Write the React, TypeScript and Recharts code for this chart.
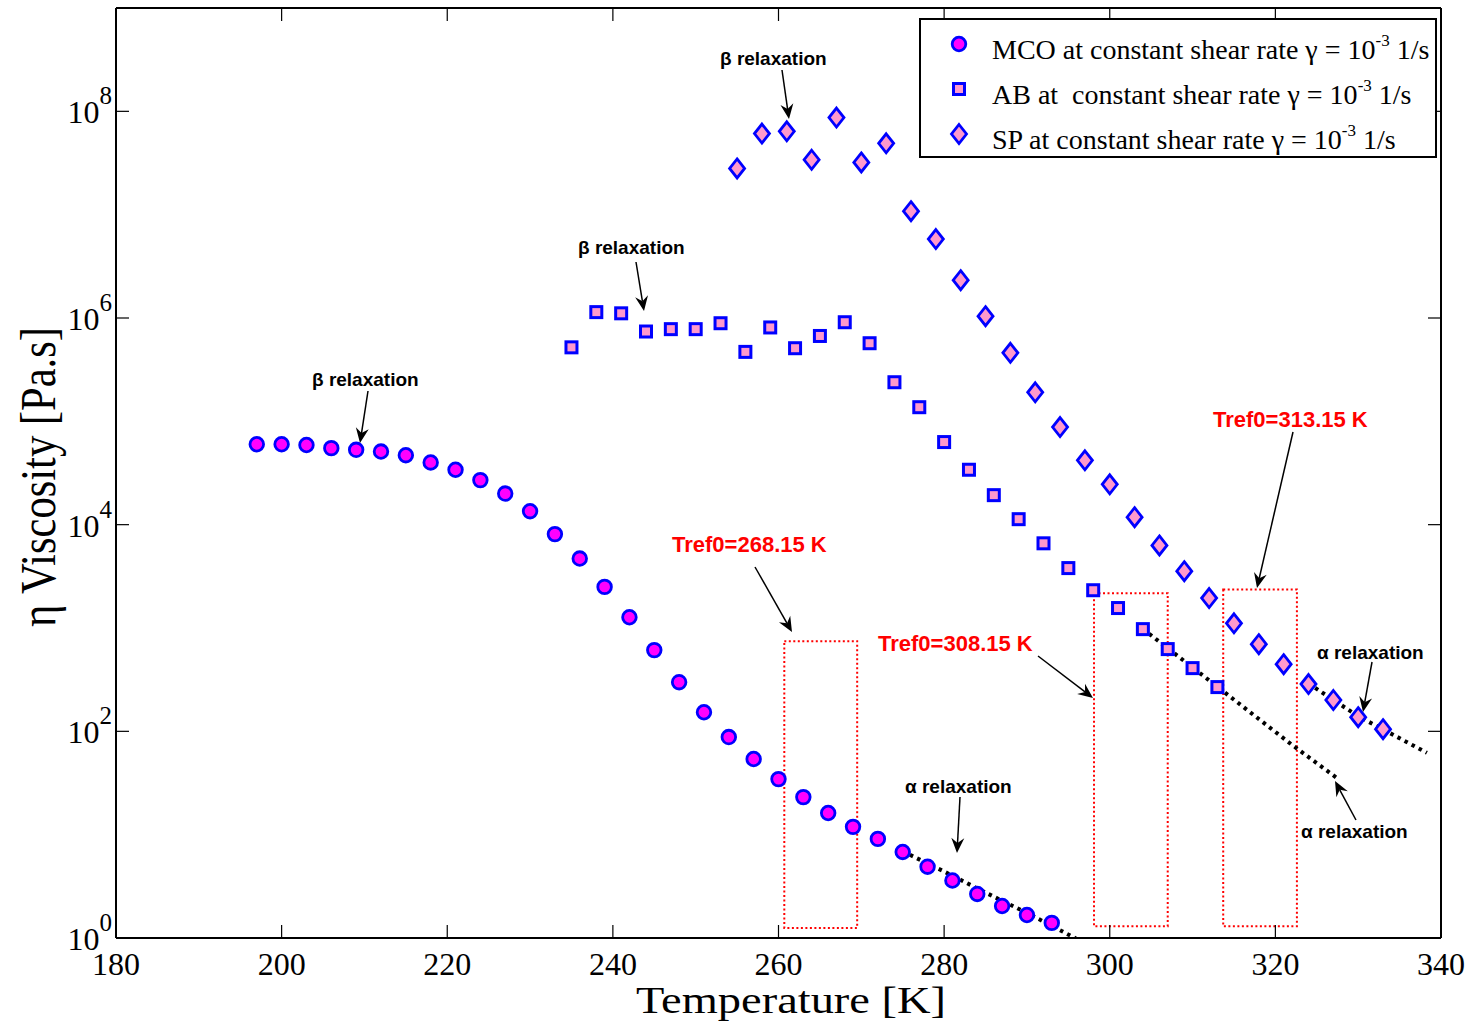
import {
  ComposedChart,
  Scatter,
  Line,
  XAxis,
  YAxis,
  ReferenceArea,
  Legend
} from "recharts"

// MCO (circles)
const mcoTemps = [197, 200, 203, 206, 209, 212, 215, 218, 221, 224, 227, 230, 233, 236, 239, 242, 245, 248, 251, 254, 257, 260, 263, 266, 269, 272, 275, 278, 281, 284, 287, 290, 293]
const mcoEta = [6.0e4, 6.0e4, 5.9e4, 5.5e4, 5.3e4, 5.1e4, 4.7e4, 4.0e4, 3.4e4, 2.7e4, 2.0e4, 1.35e4, 8.1e3, 4.7e3, 2.5e3, 1.27e3, 611, 299, 153, 88, 54, 34.5, 23.1, 16.2, 11.9, 9.1, 6.8, 4.9, 3.6, 2.67, 2.04, 1.67, 1.4]

// AB (squares)
const abTemps = [235, 238, 241, 244, 247, 250, 253, 256, 259, 262, 265, 268, 271, 274, 277, 280, 283, 286, 289, 292, 295, 298, 301, 304, 307, 310, 313]
const abEta = [5.2e5, 1.14e6, 1.11e6, 7.4e5, 7.8e5, 7.8e5, 8.9e5, 4.7e5, 8.1e5, 5.1e5, 6.7e5, 9.1e5, 5.7e5, 2.39e5, 1.37e5, 6.3e4, 3.4e4, 1.93e4, 1.13e4, 6.6e3, 3.8e3, 2.32e3, 1.56e3, 975, 625, 409, 268]

// SP (diamonds)
const spTemps = [255, 258, 261, 264, 267, 270, 273, 276, 279, 282, 285, 288, 291, 294, 297, 300, 303, 306, 309, 312, 315, 318, 321, 324, 327, 330, 333]
const spEta = [2.8e7, 6.1e7, 6.4e7, 3.4e7, 8.7e7, 3.2e7, 4.9e7, 1.08e7, 5.8e6, 2.32e6, 1.04e6, 4.6e5, 1.91e5, 8.8e4, 4.2e4, 2.46e4, 1.18e4, 6.3e3, 3.55e3, 1.95e3, 1.11e3, 698, 447, 287, 201, 137, 105]

// alpha relaxation fits (dotted)
const mcoFitTemps = [275, 280, 285, 290, 296]
const mcoFitEta = [6.9, 4.4, 2.75, 1.75, 0.98]
const abFitTemps = [304, 313, 322, 327.5]
const abFitEta = [980, 270, 74, 35]
const spFitTemps = [324, 330, 338.3]
const spFitEta = [290, 140, 62]

// Tref0 boxes
const trefBoxes = [
  { x1: 260.7, x2: 269.5, y1: 1.25, y2: 746 },
  { x1: 298.1, x2: 307.0, y1: 1.3, y2: 2170 },
  { x1: 313.7, x2: 322.6, y1: 1.3, y2: 2360 }
]

const xTicks = [180, 200, 220, 240, 260, 280, 300, 320, 340]
const yTicks = [1, 1e2, 1e4, 1e6, 1e8]

const legendRows = [
  { shape: "circle", text: "MCO at constant shear rate γ = 10" },
  { shape: "square", text: "AB at  constant shear rate γ = 10" },
  { shape: "diamond", text: "SP at constant shear rate γ = 10" }
]

const notes = [
  { text: "β relaxation", x: 312, y: 386, red: false, from: [368, 391], to: [360, 443] },
  { text: "β relaxation", x: 578, y: 254, red: false, from: [636, 262], to: [644, 311] },
  { text: "β relaxation", x: 720, y: 65, red: false, from: [782, 70], to: [789, 119] },
  { text: "Tref0=268.15 K", x: 672, y: 552, red: true, from: [755, 567], to: [792, 632] },
  { text: "Tref0=308.15 K", x: 878, y: 651, red: true, from: [1038, 656], to: [1093, 698] },
  { text: "Tref0=313.15 K", x: 1213, y: 427, red: true, from: [1293, 432], to: [1257, 588] },
  { text: "α relaxation", x: 905, y: 793, red: false, from: [960, 797], to: [957, 853] },
  { text: "α relaxation", x: 1317, y: 659, red: false, from: [1372, 662], to: [1363, 712] },
  { text: "α relaxation", x: 1301, y: 838, red: false, from: [1356, 820], to: [1335, 781] }
]

const SERIF = '"Liberation Serif", "Times New Roman", serif'
const SANS = '"Liberation Sans", Arial, sans-serif'

const toPoints = (temps: number[], etas: number[]) =>
  temps.map((T, i) => ({ T, eta: etas[i] }))

const mcoData = toPoints(mcoTemps, mcoEta)
const abData = toPoints(abTemps, abEta)
const spData = toPoints(spTemps, spEta)
const mcoFit = toPoints(mcoFitTemps, mcoFitEta)
const abFit = toPoints(abFitTemps, abFitEta)
const spFit = toPoints(spFitTemps, spFitEta)

function Marker({ shape, cx, cy }: { shape: string; cx: number; cy: number }) {
  if (shape === "circle") {
    return <circle cx={cx} cy={cy} r={6.8} fill="#ff00ff" stroke="#0000ff" strokeWidth={2.8} />
  }
  if (shape === "square") {
    return <rect x={cx - 5.5} y={cy - 5.5} width={11} height={11} fill="#ff99cc" stroke="#0000ff" strokeWidth={3} />
  }
  return (
    <path
      d={`M${cx},${cy - 9.5} L${cx + 7.5},${cy} L${cx},${cy + 9.5} L${cx - 7.5},${cy} Z`}
      fill="#ff99cc"
      stroke="#0000ff"
      strokeWidth={2.8}
    />
  )
}

const shapeFor = (shape: string) => (props: any) => {
  if (props.cx == null || props.cy == null) return <g />
  return <Marker shape={shape} cx={props.cx} cy={props.cy} />
}

function XTick(props: any) {
  const { x, y, payload } = props
  return (
    <text x={x} y={y + 37} textAnchor="middle" fontFamily={SERIF} fontSize={32} fill="#000">
      {payload.value}
    </text>
  )
}

function YTick(props: any) {
  const { x, y, payload } = props
  const exp = Math.round(Math.log10(payload.value))
  return (
    <text x={x} y={y + 12} textAnchor="end" fontFamily={SERIF} fontSize={32} fill="#000">
      10
      <tspan dy={-19} fontSize={25}>
        {exp}
      </tspan>
    </text>
  )
}

const NoTick = () => <g />

function LegendBox() {
  return (
    <svg width={518} height={140} style={{ display: "block" }}>
      <rect x={1} y={1} width={516} height={138} fill="#fff" stroke="#000" strokeWidth={2} />
      {legendRows.map((row, i) => {
        const cy = 26 + i * 45
        return (
          <g key={row.shape}>
            <Marker shape={row.shape} cx={40} cy={cy} />
            <text
              x={73}
              y={cy + 15}
              fontFamily={SERIF}
              fontSize={28}
              fill="#000"
              style={{ whiteSpace: "pre" }}
            >
              {row.text}
              <tspan dy={-13} fontSize={17}>-3</tspan>
              <tspan dy={13}> 1/s</tspan>
            </text>
          </g>
        )
      })}
    </svg>
  )
}

function Arrow({ from, to }: { from: number[]; to: number[] }) {
  const [x1, y1] = from
  const [x2, y2] = to
  const len = Math.hypot(x2 - x1, y2 - y1)
  const ux = (x2 - x1) / len
  const uy = (y2 - y1) / len
  const nx = -uy
  const ny = ux
  const L = 15
  const W = 6.5
  const bx = x2 - L * ux
  const by = y2 - L * uy
  const mx = x2 - (L - 5) * ux
  const my = y2 - (L - 5) * uy
  return (
    <g>
      <line x1={x1} y1={y1} x2={mx} y2={my} stroke="#000" strokeWidth={1.5} />
      <polygon
        points={`${x2},${y2} ${bx + W * nx},${by + W * ny} ${mx},${my} ${bx - W * nx},${by - W * ny}`}
        fill="#000"
      />
    </g>
  )
}

export default function App() {
  return (
    <div style={{ position: "absolute", left: 0, top: 0, width: 1477, height: 1034, background: "#fff" }}>
      <ComposedChart
        width={1477}
        height={1034}
        margin={{ top: 7, right: 35, bottom: 0, left: 0 }}
      >
        <XAxis
          dataKey="T"
          type="number"
          domain={[180, 340]}
          ticks={xTicks}
          allowDataOverflow
          height={96}
          tickSize={-13}
          tickMargin={13}
          tick={<XTick />}
          axisLine={{ stroke: "#000", strokeWidth: 2 }}
          tickLine={{ stroke: "#000", strokeWidth: 1.2 }}
        />
        <XAxis
          xAxisId="top"
          orientation="top"
          dataKey="T"
          type="number"
          domain={[180, 340]}
          ticks={xTicks}
          allowDataOverflow
          height={1}
          tickSize={-13}
          tick={NoTick}
          axisLine={{ stroke: "#000", strokeWidth: 2 }}
          tickLine={{ stroke: "#000", strokeWidth: 1.2 }}
        />
        <YAxis
          type="number"
          scale="log"
          domain={[1, 1e9]}
          ticks={yTicks}
          allowDataOverflow
          width={116}
          tickSize={-13}
          tickMargin={17}
          tick={<YTick />}
          axisLine={{ stroke: "#000", strokeWidth: 2 }}
          tickLine={{ stroke: "#000", strokeWidth: 1.2 }}
        />
        <YAxis
          yAxisId="right"
          orientation="right"
          type="number"
          scale="log"
          domain={[1, 1e9]}
          ticks={yTicks}
          allowDataOverflow
          width={1}
          tickSize={-13}
          tick={NoTick}
          axisLine={{ stroke: "#000", strokeWidth: 2 }}
          tickLine={{ stroke: "#000", strokeWidth: 1.2 }}
        />

        {trefBoxes.map((b, i) => (
          <ReferenceArea
            key={i}
            x1={b.x1}
            x2={b.x2}
            y1={b.y1}
            y2={b.y2}
            fill="none"
            stroke="#ff0000"
            strokeWidth={2}
            strokeDasharray="2 2.5"
          />
        ))}

        <Scatter data={mcoData} dataKey="eta" name="MCO" shape={shapeFor("circle")} isAnimationActive={false} />
        <Scatter data={abData} dataKey="eta" name="AB" shape={shapeFor("square")} isAnimationActive={false} />
        <Scatter data={spData} dataKey="eta" name="SP" shape={shapeFor("diamond")} isAnimationActive={false} />

        <Line data={mcoFit} dataKey="eta" stroke="#000" strokeWidth={4} strokeDasharray="3.5 4.5" dot={false} activeDot={false} isAnimationActive={false} legendType="none" />
        <Line data={abFit} dataKey="eta" stroke="#000" strokeWidth={4} strokeDasharray="3.5 4.5" dot={false} activeDot={false} isAnimationActive={false} legendType="none" />
        <Line data={spFit} dataKey="eta" stroke="#000" strokeWidth={4} strokeDasharray="3.5 4.5" dot={false} activeDot={false} isAnimationActive={false} legendType="none" />

        <Legend
          layout="horizontal"
          verticalAlign="middle"
          align="center"
          content={() => <LegendBox />}
          wrapperStyle={{ top: 18, left: 919, width: 518, height: 140 }}
        />
      </ComposedChart>

      <svg
        width={1477}
        height={1034}
        style={{ position: "absolute", left: 0, top: 0, pointerEvents: "none" }}
      >
        {notes.map((n, i) => (
          <g key={i}>
            <text
              x={n.x}
              y={n.y}
              fontFamily={SANS}
              fontWeight="bold"
              fontSize={n.red ? 22 : 19}
              fill={n.red ? "#ff0000" : "#000"}
            >
              {n.text}
            </text>
            <Arrow from={n.from} to={n.to} />
          </g>
        ))}
        <text
          x={791}
          y={1013}
          textAnchor="middle"
          fontFamily={SERIF}
          fontSize={38}
          textLength={310}
          lengthAdjust="spacingAndGlyphs"
          fill="#000"
        >
          Temperature [K]
        </text>
        <text
          transform="translate(55,477) rotate(-90)"
          textAnchor="middle"
          fontFamily={SERIF}
          fontSize={50}
          textLength={300}
          lengthAdjust="spacingAndGlyphs"
          fill="#000"
        >
          η Viscosity [Pa.s]
        </text>
      </svg>
    </div>
  )
}
